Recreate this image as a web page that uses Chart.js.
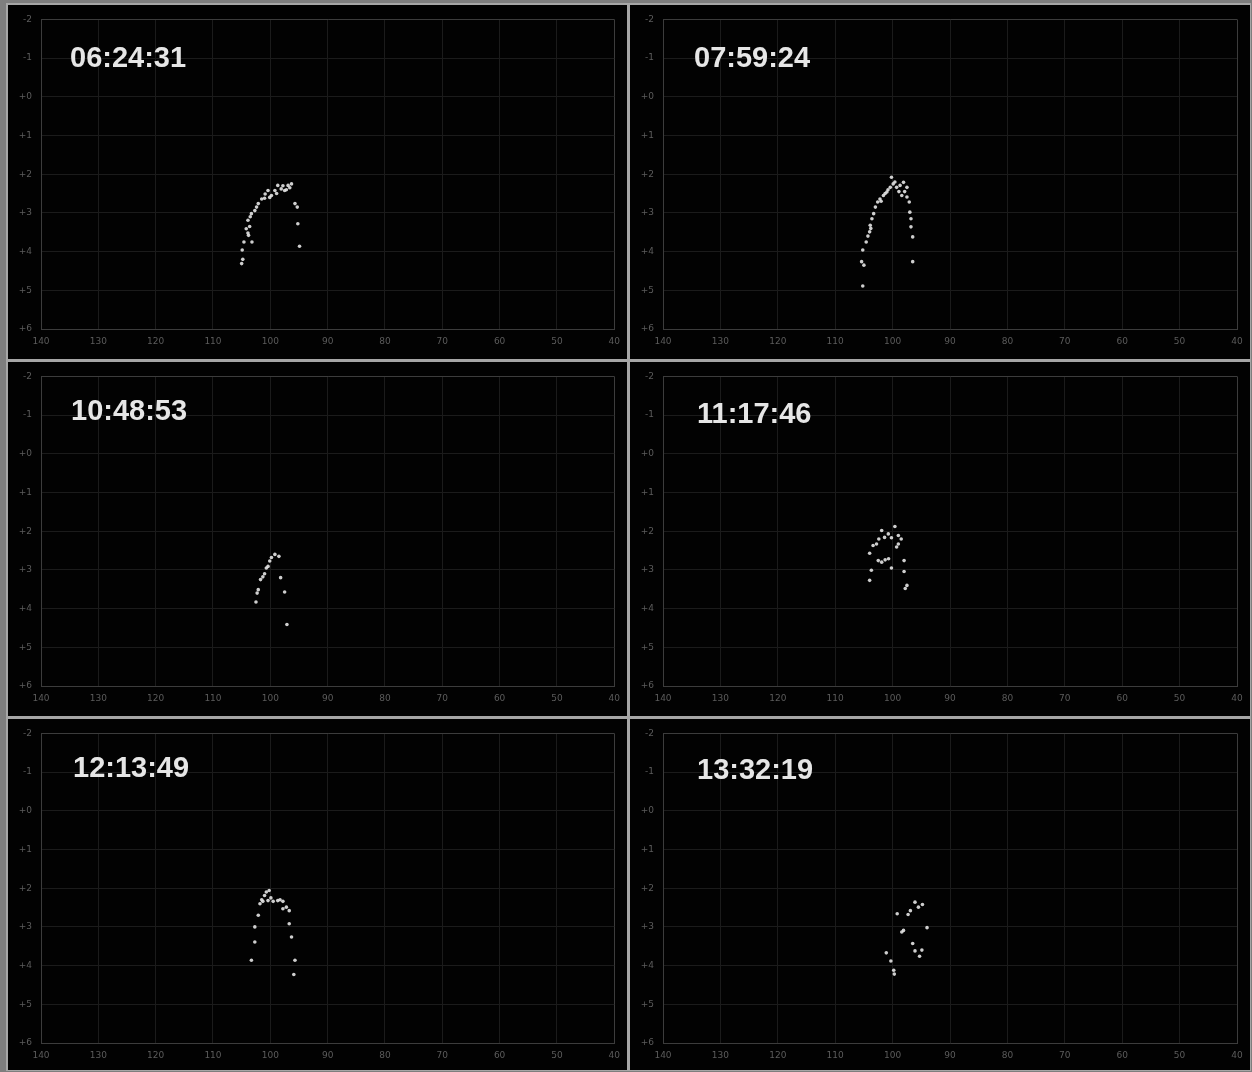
<!DOCTYPE html>
<html>
<head>
<meta charset="utf-8">
<script src="https://cdn.jsdelivr.net/npm/chart.js@4/dist/chart.umd.min.js"></script>
<style>
  html, body { margin: 0; padding: 0; }
  body { width: 1252px; height: 1072px; background: #7e7e7e; position: relative; overflow: hidden; }
  #frame { position: absolute; left: 6px; top: 3px; width: 1245px; height: 1068px; background: #a6a6a6; }
  .panel { position: absolute; background: #020202; }
  .panel canvas { display: block; }
</style>
</head>
<body>
<div id="frame"></div>
<script>
// Scan time shown in each panel
const times = ['06:24:31', '07:59:24', '10:48:53', '11:17:46', '12:13:49', '13:32:19'];

// Axis tick labels
const xTickLabels = ['140', '130', '120', '110', '100', '90', '80', '70', '60', '50', '40'];
const yTickLabels = ['-2', '-1', '+0', '+1', '+2', '+3', '+4', '+5', '+6'];

// 06:24:31
const xs1 = [105.0, 104.8, 104.9, 104.6, 103.8, 103.9, 103.2, 104.2, 103.5, 103.9, 103.6, 103.3, 102.7, 102.4,
             102.1, 101.5, 100.9, 101.0, 100.4, 100.1, 99.8, 99.2, 98.9, 98.7, 98.1, 97.8, 97.5, 97.2, 96.9,
             96.6, 96.3, 95.7, 95.3, 95.2, 94.9];
const ys1 = [4.31, 4.20, 3.96, 3.75, 3.58, 3.52, 3.75, 3.41, 3.10, 3.19, 3.35, 3.02, 2.94, 2.85,
             2.76, 2.64, 2.51, 2.62, 2.42, 2.60, 2.55, 2.42, 2.50, 2.29, 2.38, 2.30, 2.42, 2.40, 2.29,
             2.35, 2.25, 2.76, 2.85, 3.28, 3.86];

// 07:59:24
const xs2 = [105.2, 105.4, 105.0, 105.2, 104.6, 104.3, 104.0, 103.9, 103.8, 103.6, 103.3, 103.0, 102.6, 102.2,
             102.0, 101.6, 101.3, 101.0, 100.8, 100.4, 100.2, 99.9, 99.6, 99.3, 98.9, 98.7, 98.1, 97.9, 97.5,
             98.4, 97.5, 97.1, 97.0, 96.8, 96.8, 96.5, 96.5];
const ys2 = [4.89, 4.26, 4.35, 3.96, 3.75, 3.60, 3.49, 3.32, 3.40, 3.15, 3.02, 2.85, 2.72, 2.64,
             2.70, 2.55, 2.50, 2.46, 2.40, 2.34, 2.08, 2.25, 2.20, 2.34, 2.45, 2.29, 2.21, 2.45, 2.34,
             2.55, 2.59, 2.72, 2.98, 3.15, 3.36, 3.62, 4.26];

// 10:48:53
const xs3 = [99.2, 98.5, 99.8, 100.1, 100.4, 100.7, 101.3, 101.0, 101.7, 98.2, 102.1, 102.3, 97.5, 102.5, 97.1];
const ys3 = [2.60, 2.65, 2.68, 2.77, 2.91, 2.95, 3.18, 3.10, 3.25, 3.20, 3.51, 3.60, 3.57, 3.83, 4.41];

// 11:17:46
const xs4 = [99.6, 101.9, 100.75, 100.2, 101.4, 99.0, 102.4, 98.5, 102.8, 99.0, 103.4, 104.0, 99.3, 102.5,
             101.3, 100.7, 98.0, 100.2, 103.7, 98.0, 104.0, 97.5, 97.8, 101.9];
const ys4 = [1.88, 1.98, 2.07, 2.17, 2.16, 2.11, 2.20, 2.20, 2.33, 2.33, 2.37, 2.57, 2.41, 2.76,
             2.74, 2.71, 2.76, 2.95, 3.01, 3.04, 3.27, 3.40, 3.48, 2.80];

// 12:13:49
const xs5 = [100.2, 100.7, 101.0, 101.5, 101.3, 100.4, 99.9, 99.5, 98.7, 98.3, 97.8, 97.2, 101.8, 97.8,
             102.1, 96.7, 102.7, 96.7, 96.3, 102.7, 103.3, 95.7, 95.9];
const ys5 = [2.06, 2.10, 2.19, 2.30, 2.34, 2.32, 2.25, 2.34, 2.32, 2.30, 2.34, 2.49, 2.40, 2.53,
             2.70, 2.58, 3.00, 2.92, 3.26, 3.39, 3.86, 3.86, 4.23];

// 13:32:19
const xs6 = [96.1, 94.8, 95.5, 96.9, 97.3, 99.2, 94.0, 98.1, 98.4, 96.5, 96.1, 94.9, 95.3, 101.1, 100.3, 99.8, 99.7];
const ys6 = [2.36, 2.42, 2.49, 2.58, 2.68, 2.66, 3.02, 3.09, 3.13, 3.43, 3.62, 3.60, 3.76, 3.67, 3.88, 4.12, 4.22];

const seriesX = [xs1, xs2, xs3, xs4, xs5, xs6];
const seriesY = [ys1, ys2, ys3, ys4, ys5, ys6];

// Panel placement on the page
const colLeft = [8, 630];
const colWidth = [619, 620];
const rowTop = [5, 362, 719];
const rowHeight = [354, 354, 351];
// Time stamp offset within each panel (left edge, vertical centre)
const stampPos = [[62, 54], [64, 54], [63, 50], [67, 53], [65, 50], [67, 52]];

const PLOT_TOP = 13, PLOT_H = 311, PLOT_LEFT = 33, PLOT_W = 574;

const stampPlugin = {
  id: 'stamp',
  afterDraw(chart, args, opts) {
    const ctx = chart.ctx;
    ctx.save();
    ctx.font = 'bold 29px "Liberation Sans", Arial, sans-serif';
    ctx.fillStyle = '#e6e6e6';
    ctx.textBaseline = 'middle';
    ctx.textAlign = 'left';
    ctx.fillText(opts.text, opts.x, opts.y);
    ctx.restore();
  }
};

for (let i = 0; i < 6; i++) {
  const col = i % 2, row = Math.floor(i / 2);
  const W = colWidth[col], H = rowHeight[row];
  const div = document.createElement('div');
  div.className = 'panel';
  div.style.left = colLeft[col] + 'px';
  div.style.top = rowTop[row] + 'px';
  div.style.width = W + 'px';
  div.style.height = H + 'px';
  const cv = document.createElement('canvas');
  cv.width = W; cv.height = H;
  cv.style.width = W + 'px'; cv.style.height = H + 'px';
  div.appendChild(cv);
  document.body.appendChild(div);

  const pts = seriesX[i].map((x, k) => ({ x: x, y: seriesY[i][k] }));
  const xAxisH = H - PLOT_TOP - PLOT_H;
  const rightPad = W - PLOT_LEFT - PLOT_W;

  new Chart(cv, {
    type: 'scatter',
    data: {
      datasets: [{
        data: pts,
        pointRadius: 1.8,
        pointHoverRadius: 1.8,
        pointBorderWidth: 0,
        pointBackgroundColor: 'rgba(228,228,228,0.9)',
        borderColor: 'rgba(228,228,228,0.9)'
      }]
    },
    options: {
      responsive: false,
      animation: false,
      devicePixelRatio: 1,
      events: [],
      layout: { padding: { top: PLOT_TOP, right: rightPad, bottom: 0, left: 0 } },
      plugins: {
        legend: { display: false },
        tooltip: { enabled: false },
        stamp: { text: times[i], x: stampPos[i][0], y: stampPos[i][1] }
      },
      scales: {
        x: {
          type: 'linear',
          min: 40, max: 140,
          reverse: true,
          afterFit(s) { s.height = xAxisH; },
          ticks: {
            stepSize: 10,
            padding: 7,
            maxRotation: 0,
            autoSkip: false,
            color: '#5c5c5c',
            font: { size: 9, family: '"DejaVu Sans", sans-serif' },
            callback: (v) => xTickLabels[(140 - v) / 10]
          },
          grid: {
            drawTicks: false,
            lineWidth: 1,
            color: (c) => (c.tick && c.tick.value === 40) ? '#3c3c3c' : '#1b1b1b'
          },
          border: { display: true, color: '#3c3c3c', width: 1 }
        },
        y: {
          type: 'linear',
          min: -2, max: 6,
          reverse: true,
          afterFit(s) { s.width = PLOT_LEFT; },
          ticks: {
            stepSize: 1,
            padding: 9,
            autoSkip: false,
            color: '#5c5c5c',
            font: { size: 9, family: '"DejaVu Sans", sans-serif' },
            callback: (v) => yTickLabels[v + 2]
          },
          grid: {
            drawTicks: false,
            lineWidth: 1,
            color: (c) => (c.tick && c.tick.value === -2) ? '#3c3c3c' : '#1b1b1b'
          },
          border: { display: true, color: '#3c3c3c', width: 1 }
        }
      }
    },
    plugins: [stampPlugin]
  });
}
</script>
</body>
</html>
